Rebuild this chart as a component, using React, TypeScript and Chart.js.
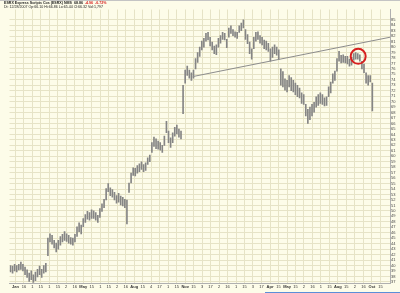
import React, { useEffect, useRef } from 'react';
import { Chart, registerables } from 'chart.js';

Chart.register(...registerables);

// Price bars (each bar ≈ 2–3 trading days), high / low
const highs = [
  40.0, 39.9, 40.2, 40.0, 40.2, 40.6, 40.2, 39.7, 39.2, 38.6,
  39.0, 38.3, 38.8, 39.3, 39.9, 39.3, 40.0, 40.4, 45.0, 45.8,
  45.5, 44.6, 44.1, 44.6, 45.3, 45.7, 46.2, 45.8, 45.5, 45.1,
  45.0, 45.7, 47.1, 47.8, 47.4, 48.6, 49.3, 49.9, 49.7, 50.2,
  50.0, 49.7, 49.2, 50.4, 51.3, 52.1, 54.1, 55.0, 54.2, 53.9,
  53.4, 52.8, 53.2, 52.7, 52.5, 52.1, 52.0, 55.1, 56.9, 57.9,
  57.8, 58.3, 58.6, 59.0, 58.5, 58.8, 59.7, 60.2, 62.5, 63.5,
  63.2, 62.8, 62.5, 62.0, 63.7, 66.4, 64.6, 63.4, 64.3, 65.3,
  65.7, 65.0, 64.6, 73.0, 75.8, 76.5, 75.8, 75.3, 75.8, 77.9,
  79.0, 80.0, 81.1, 81.6, 82.5, 82.7, 81.8, 80.9, 80.2, 80.4,
  81.6, 82.1, 82.7, 82.5, 81.4, 83.5, 83.9, 83.2, 82.8, 82.7,
  83.9, 84.4, 85.0, 83.2, 82.3, 80.9, 79.7, 81.8, 82.7, 82.8,
  82.1, 81.8, 81.3, 81.1, 80.7, 79.7, 80.0, 80.4, 80.0, 79.5,
  76.0, 75.5, 74.2, 73.9, 74.8, 74.4, 73.9, 73.4, 73.0, 72.5,
  71.6, 71.3, 69.5, 68.6, 69.0, 69.5, 69.9, 70.9, 71.3, 71.6,
  71.3, 70.7, 70.9, 72.7, 73.6, 75.1, 75.6, 77.9, 79.2, 78.5,
  78.6, 78.3, 78.3, 77.8, 78.1, 78.8, 79.0, 78.8, 78.6, 77.4,
  76.9, 75.3, 74.8, 74.8, 73.4,
];

const lows = [
  38.8, 38.6, 39.0, 38.8, 39.2, 39.3, 39.0, 38.3, 37.8, 37.1,
  37.4, 36.9, 37.2, 37.9, 38.3, 37.8, 38.6, 38.8, 41.8, 44.3,
  43.9, 43.2, 42.5, 43.0, 43.7, 44.3, 44.6, 44.4, 44.1, 43.9,
  43.7, 44.3, 45.3, 46.2, 45.8, 47.1, 47.9, 48.5, 48.3, 48.6,
  48.6, 48.3, 47.9, 48.8, 49.9, 50.6, 52.0, 53.5, 52.8, 52.5,
  52.0, 51.4, 51.6, 51.1, 50.9, 50.6, 47.6, 53.4, 55.1, 56.5,
  56.4, 56.9, 57.2, 57.6, 57.2, 57.4, 58.5, 59.0, 60.7, 61.8,
  61.4, 61.3, 61.1, 60.7, 62.0, 64.3, 62.5, 61.6, 62.5, 63.7,
  64.1, 63.5, 63.2, 67.8, 73.4, 74.8, 74.3, 73.9, 74.3, 76.0,
  77.2, 78.3, 79.5, 80.0, 81.1, 81.3, 80.2, 79.5, 78.8, 78.6,
  80.0, 80.7, 81.4, 81.3, 79.9, 81.8, 82.5, 82.1, 81.8, 81.6,
  82.7, 83.0, 83.5, 81.4, 80.6, 78.8, 77.8, 79.7, 81.1, 81.4,
  80.7, 80.4, 79.7, 79.5, 79.2, 77.4, 78.1, 78.8, 78.5, 77.8,
  73.0, 72.7, 72.1, 71.8, 72.7, 72.0, 71.8, 71.3, 70.9, 70.7,
  69.7, 69.5, 67.4, 66.0, 66.7, 67.4, 68.1, 69.0, 69.3, 69.7,
  69.5, 69.2, 69.3, 70.9, 71.6, 73.4, 73.9, 75.6, 77.4, 77.1,
  77.2, 77.1, 76.9, 76.5, 76.7, 77.6, 77.8, 77.8, 77.4, 76.0,
  75.3, 73.4, 73.0, 73.6, 68.3,
];

// Trendline (bar index, price)
const trendIdx = [87.7, 182.5];
const trendPrice = [74.6, 81.8];

// Red circle marker
const markIdx = [167.2];
const markPrice = [78.3];

// X axis ticks (bar index) and labels
const xTickIdx = [
  2.4, 6.5, 10.5, 14.6, 18.7, 22.8, 26.8, 30.9, 35.0, 39.1, 43.2,
  47.2, 51.3, 55.4, 59.5, 63.6, 67.6, 71.7, 75.8, 79.9, 84.0, 88.0,
  92.1, 96.2, 100.3, 104.4, 108.5, 112.5, 116.6, 120.7, 124.8, 128.9,
  133.0, 137.0, 141.1, 145.2, 149.3, 153.4, 157.4, 161.5, 165.6, 169.7,
  173.8, 177.9,
];
const xTickLabels = [
  'Jan', '16', '1', '15', '1', '15', '2', '16', 'May', '15', '1',
  '15', '2', '16', 'Aug', '15', '4', '17', '1', '15', 'Nov', '15',
  '3', '17', '2', '16', '1', '15', '3', '17', 'Apr', '15',
  'May', '15', '2', '16', '1', '15', 'Aug', '15', '2', '16',
  'Oct', '15',
];
const monthNames = ['Jan', 'Feb', 'Mar', 'Apr', 'May', 'Jun', 'Jul', 'Aug', 'Sep', 'Oct', 'Nov', 'Dec'];

// Y axis ticks
const yTicks = [
  37, 38, 39, 40, 41, 42, 43, 44, 45, 46, 47, 48, 49, 50, 51, 52, 53,
  54, 55, 56, 57, 58, 59, 60, 61, 62, 63, 64, 65, 66, 67, 68, 69, 70,
  71, 72, 73, 74, 75, 76, 77, 78, 79, 80, 81, 82, 83, 84, 85,
];

const FONT = "'Liberation Sans', Arial, sans-serif";
const GRID = '#e6e3c6';
const BG = '#fdfce9';

export default function App() {
  const ref = useRef<HTMLCanvasElement>(null);

  useEffect(() => {
    if (!ref.current) return;
    const bars = highs.map((h, i) => ({ x: i, y: [lows[i], h] }));
    const chart = new Chart(ref.current, {
      type: 'bar',
      data: {
        datasets: [
          {
            type: 'line',
            data: markIdx.map((x, i) => ({ x, y: markPrice[i] })),
            showLine: false,
            pointRadius: 7.5,
            pointBorderColor: '#d61f1f',
            pointBorderWidth: 2,
            pointBackgroundColor: 'rgba(0,0,0,0)',
          } as any,
          {
            type: 'line',
            data: trendIdx.map((x, i) => ({ x, y: trendPrice[i] })),
            borderColor: '#8c8c8c',
            borderWidth: 1,
            pointRadius: 0,
          } as any,
          {
            type: 'bar',
            data: bars,
            backgroundColor: '#858585',
            barThickness: 1,
          } as any,
        ],
      },
      options: {
        animation: false,
        responsive: false,
        devicePixelRatio: 1,
        events: [],
        layout: { padding: { left: 2, top: 1, right: 0, bottom: 0 } },
        plugins: { legend: { display: false }, tooltip: { enabled: false } },
        scales: {
          x: {
            type: 'linear',
            min: -0.47,
            max: 182.5,
            offset: false,
            afterBuildTicks: (s: any) => {
              s.ticks = xTickIdx.map((v) => ({ value: v }));
            },
            afterFit: (s: any) => {
              s.height = 6;
            },
            ticks: {
              autoSkip: false,
              maxRotation: 0,
              minRotation: 0,
              padding: 1,
              color: '#333',
              font: (c: any) => ({
                size: 4,
                family: FONT,
                weight: monthNames.includes(xTickLabels[c.index]) ? 'bold' : 'normal',
              }),
              callback: (_v: any, i: number) => xTickLabels[i],
            },
            grid: { color: GRID, lineWidth: 1, drawTicks: false, offset: false },
            border: { display: true, color: '#b0b0b0' },
          },
          y: {
            position: 'right',
            min: 36.7,
            max: 86.88,
            afterBuildTicks: (s: any) => {
              s.ticks = yTicks.map((v) => ({ value: v }));
            },
            afterFit: (s: any) => {
              s.width = 10;
            },
            ticks: {
              autoSkip: false,
              padding: 1,
              color: '#444',
              font: { size: 4, family: FONT },
              callback: (v: any) => String(v),
            },
            grid: { color: GRID, lineWidth: 1, drawTicks: false },
            border: { display: true, color: '#b0b0b0' },
          },
        },
      } as any,
    });
    return () => chart.destroy();
  }, []);

  return (
    <div
      style={{
        position: 'fixed',
        left: 0,
        top: 0,
        width: 400,
        height: 293,
        overflow: 'hidden',
        background: BG,
      }}
    >
      <canvas ref={ref} width={400} height={293} style={{ display: 'block' }} />
      <div style={{ position: 'absolute', left: 0, top: 0, width: 400, height: 1, background: '#c4c4c4' }} />
      <div
        style={{
          position: 'absolute',
          left: 4,
          top: 1,
          fontFamily: FONT,
          fontSize: '3.6px',
          lineHeight: '4px',
          color: '#222',
          whiteSpace: 'nowrap',
        }}
      >
        <div style={{ fontWeight: 'bold' }}>
          ESRX Express Scripts Cos (ESRX) NMS&nbsp;&nbsp;68.86&nbsp;&nbsp;
          <span style={{ color: '#d61f1f' }}>-4.96&nbsp;&nbsp;-6.72%</span>
        </div>
        <div>Dt: 12/28/2007 Op:66.10 Hi:66.86 Lo:65.44 Cl:66.32 Vol:1,797</div>
      </div>
      <div style={{ position: 'absolute', left: 265, top: 292, width: 135, height: 1, background: '#5b8fd8' }} />
    </div>
  );
}
